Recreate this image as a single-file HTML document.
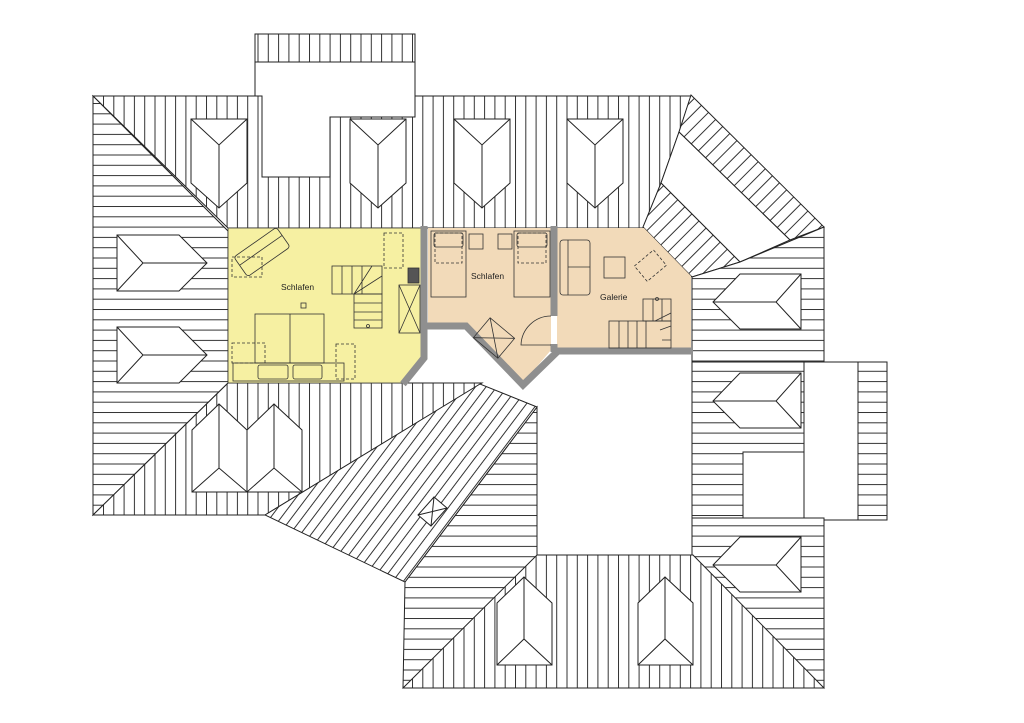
<!DOCTYPE html>
<html><head><meta charset="utf-8"><style>
html,body{margin:0;padding:0;background:#fff;}
svg{display:block;}
text{font-family:"Liberation Sans",sans-serif;font-size:8.5px;fill:#222;}
</style></head><body>
<svg width="1024" height="723" viewBox="0 0 1024 723" xmlns="http://www.w3.org/2000/svg">
<defs>
<pattern id="V" width="10.3" height="10" patternUnits="userSpaceOnUse"><rect width="10.3" height="10" fill="#fff"/><line x1="0.5" y1="0" x2="0.5" y2="10" stroke="#333" stroke-width="1"/></pattern>
<pattern id="H" width="10" height="10.3" patternUnits="userSpaceOnUse"><rect width="10" height="10.3" fill="#fff"/><line x1="0" y1="0.5" x2="10" y2="0.5" stroke="#333" stroke-width="1"/></pattern>
<pattern id="D45" width="10" height="10" patternUnits="userSpaceOnUse" patternTransform="rotate(45)"><rect width="10" height="10" fill="#fff"/><line x1="0.5" y1="0" x2="0.5" y2="10" stroke="#333" stroke-width="1"/></pattern>
<pattern id="D37" width="8.5" height="10" patternUnits="userSpaceOnUse" patternTransform="rotate(37)"><rect width="8.5" height="10" fill="#fff"/><line x1="0.5" y1="0" x2="0.5" y2="10" stroke="#333" stroke-width="1"/></pattern>
</defs>
<g stroke="#222" stroke-width="1" stroke-linejoin="miter">
<rect x="255" y="34" width="160" height="28" fill="url(#V)"/>
<polygon points="93,96 691,96 679,132 661,183 643,228 228,228" fill="url(#V)"/>
<polygon points="255,62 415,62 415,117 330,117 330,177 262,177 262,96 255,96" fill="#fff"/>
<polygon points="93,96 228,231 228,383 93,515" fill="url(#H)"/>
<polygon points="93,515 228,383 482,383 265,515" fill="url(#V)"/>
<polygon points="691,95 824,227 790,240 679,132" fill="url(#D45)"/>
<polygon points="679,132 790,240 740,262 661,183" fill="#fff"/>
<polygon points="661,183 740,262 692,277 643,227" fill="url(#D45)"/>
<polygon points="692,277 740,262 824,227 824,362 692,362" fill="url(#H)"/>
<polygon points="692,362 804,362 804,452 743,452 743,518 692,518" fill="url(#H)"/>
<rect x="804" y="362" width="83" height="158" fill="#fff"/>
<rect x="858" y="362" width="29" height="158" fill="url(#H)"/>
<line x1="743" y1="520" x2="840" y2="520"/>
<polygon points="405,582 537,407 537,688 403,688" fill="url(#H)"/>
<rect x="692" y="518" width="132" height="170" fill="url(#H)"/>
<polygon points="403,688 537,555 693,555 824,688" fill="url(#V)"/>
<line x1="692" y1="555" x2="692" y2="277"/>
<polygon points="265,515 480,384 537,407 405,582" fill="url(#D37)"/>
<polygon points="418,515 434,497 447,508 431,526" fill="#fff"/>
<line x1="418" y1="515" x2="447" y2="508"/><line x1="434" y1="497" x2="431" y2="526"/>
</g>
<g stroke="#222" stroke-width="1" fill="#fff">
<g id="dt"><polygon points="191,119 247,119 247,183 219,208 191,183"/><polyline points="191,119 219,145 247,119" fill="none"/><line x1="219" y1="145" x2="219" y2="208"/></g>
<use href="#dt" x="159"/><use href="#dt" x="263"/><use href="#dt" x="376"/>
<g id="dl"><polygon points="117,235 179,235 207,263 179,291 117,291"/><polyline points="117,235 143,263 117,291" fill="none"/><line x1="143" y1="263" x2="207" y2="263"/></g>
<use href="#dl" y="92"/>
<g id="dr"><polygon points="740,274 801,274 801,329 740,329 713,302"/><polyline points="801,274 776,302 801,329" fill="none"/><line x1="713" y1="302" x2="776" y2="302"/></g>
<use href="#dr" y="99"/><use href="#dr" y="263"/>
<g id="db"><polygon points="497,603 524,577 552,603 552,665 497,665"/><polyline points="497,665 524,639 552,665" fill="none"/><line x1="524" y1="577" x2="524" y2="639"/></g>
<use href="#db" x="141"/>
<polygon points="192,430 219,404 247,430 274,404 302,430 302,492 192,492"/>
<polyline points="192,492 219,468 247,492 274,468 302,492" fill="none"/>
<line x1="219" y1="404" x2="219" y2="468"/><line x1="274" y1="404" x2="274" y2="468"/><line x1="247" y1="430" x2="247" y2="492"/>
</g>
<polygon points="228,228 421,228 421,360 403,383 228,383" fill="#f6f0a2" stroke="#333" stroke-width="0.8"/>
<polygon points="428,228 551,228 551,350 523,383 466,326 428,326" fill="#f2dab9"/>
<polygon points="557,228 644,228 691,276 691,350 557,350" fill="#f2dab9"/>
<g stroke="#8f8f8f" stroke-width="7" fill="none" stroke-linejoin="miter">
<polyline points="424,226 424,358 403,384"/>
<polyline points="424,326 466,326 523,385 558,351 693,351"/>
<line x1="554" y1="226" x2="554" y2="316"/>
<line x1="554" y1="344" x2="554" y2="352"/>
</g>
<rect x="551" y="316" width="6" height="28" fill="#fff"/>
<g stroke="#333" stroke-width="0.8" fill="none">
<rect x="332" y="266" width="50" height="28"/><rect x="354" y="294" width="28" height="34"/>
<path d="M342,266v28M352,266v28M362,266v28M354,303h28M354,312h28M354,320h28M372,266l-18,28M382,276l-28,18"/>
<circle cx="368" cy="326" r="1.5"/>
<rect x="255" y="314" width="69" height="49"/><line x1="290" y1="314" x2="290" y2="363"/>
<rect x="233" y="363" width="111" height="18"/><rect x="258" y="365" width="30" height="14" rx="2"/><rect x="293" y="365" width="29" height="14" rx="2"/>
<rect x="301" y="303" width="5" height="5"/>
<rect x="399" y="285" width="21" height="48"/><path d="M399,285l21,48M420,285l-21,48"/>
<rect x="408" y="268" width="11" height="15" fill="#555"/>
<g transform="rotate(-35 262 252)"><rect x="236" y="240" width="52" height="24" rx="3"/><line x1="236" y1="250" x2="288" y2="250"/></g>
<g stroke-dasharray="3,2">
<rect x="384" y="233" width="19" height="35"/><rect x="232" y="343" width="33" height="20"/><rect x="336" y="344" width="19" height="35"/><rect x="232" y="257" width="30" height="20"/>
</g>
</g>
<g stroke="#333" stroke-width="0.8" fill="none">
<rect x="431" y="231" width="35" height="66"/><rect x="514" y="231" width="36" height="66"/>
<rect x="434" y="233" width="29" height="14" rx="2"/><rect x="517" y="233" width="30" height="14" rx="2"/>
<rect x="469" y="234" width="14" height="15"/><rect x="498" y="234" width="14" height="15"/>
<g transform="rotate(40 494 338)"><rect x="478" y="325" width="32" height="26"/><path d="M478,325l32,26M510,325l-32,26"/></g>
<path d="M551,345 L521,345 A30,30 0 0 1 551,316"/>
<rect x="560" y="240" width="30" height="55" rx="3"/><line x1="568" y1="240" x2="568" y2="295"/><line x1="568" y1="267" x2="590" y2="267"/>
<rect x="604" y="257" width="21" height="21"/>
<rect x="643" y="299" width="28" height="22"/><rect x="609" y="321" width="62" height="27"/>
<path d="M653,299v22M662,299v22M619,321v27M628,321v27M637,321v27M646,321v27M655,321l16,-8M660,330l11,-4M662,340h9"/>
<circle cx="657" cy="299" r="1.5"/>
<g stroke-dasharray="3,2"><rect x="435" y="233" width="27" height="30"/><rect x="518" y="233" width="28" height="30"/>
<g transform="rotate(-40 650 266)"><rect x="638" y="256" width="25" height="20"/></g></g>
</g>
<text x="281" y="290">Schlafen</text>
<text x="471" y="279">Schlafen</text>
<text x="600" y="300">Galerie</text>
</svg>
</body></html>
